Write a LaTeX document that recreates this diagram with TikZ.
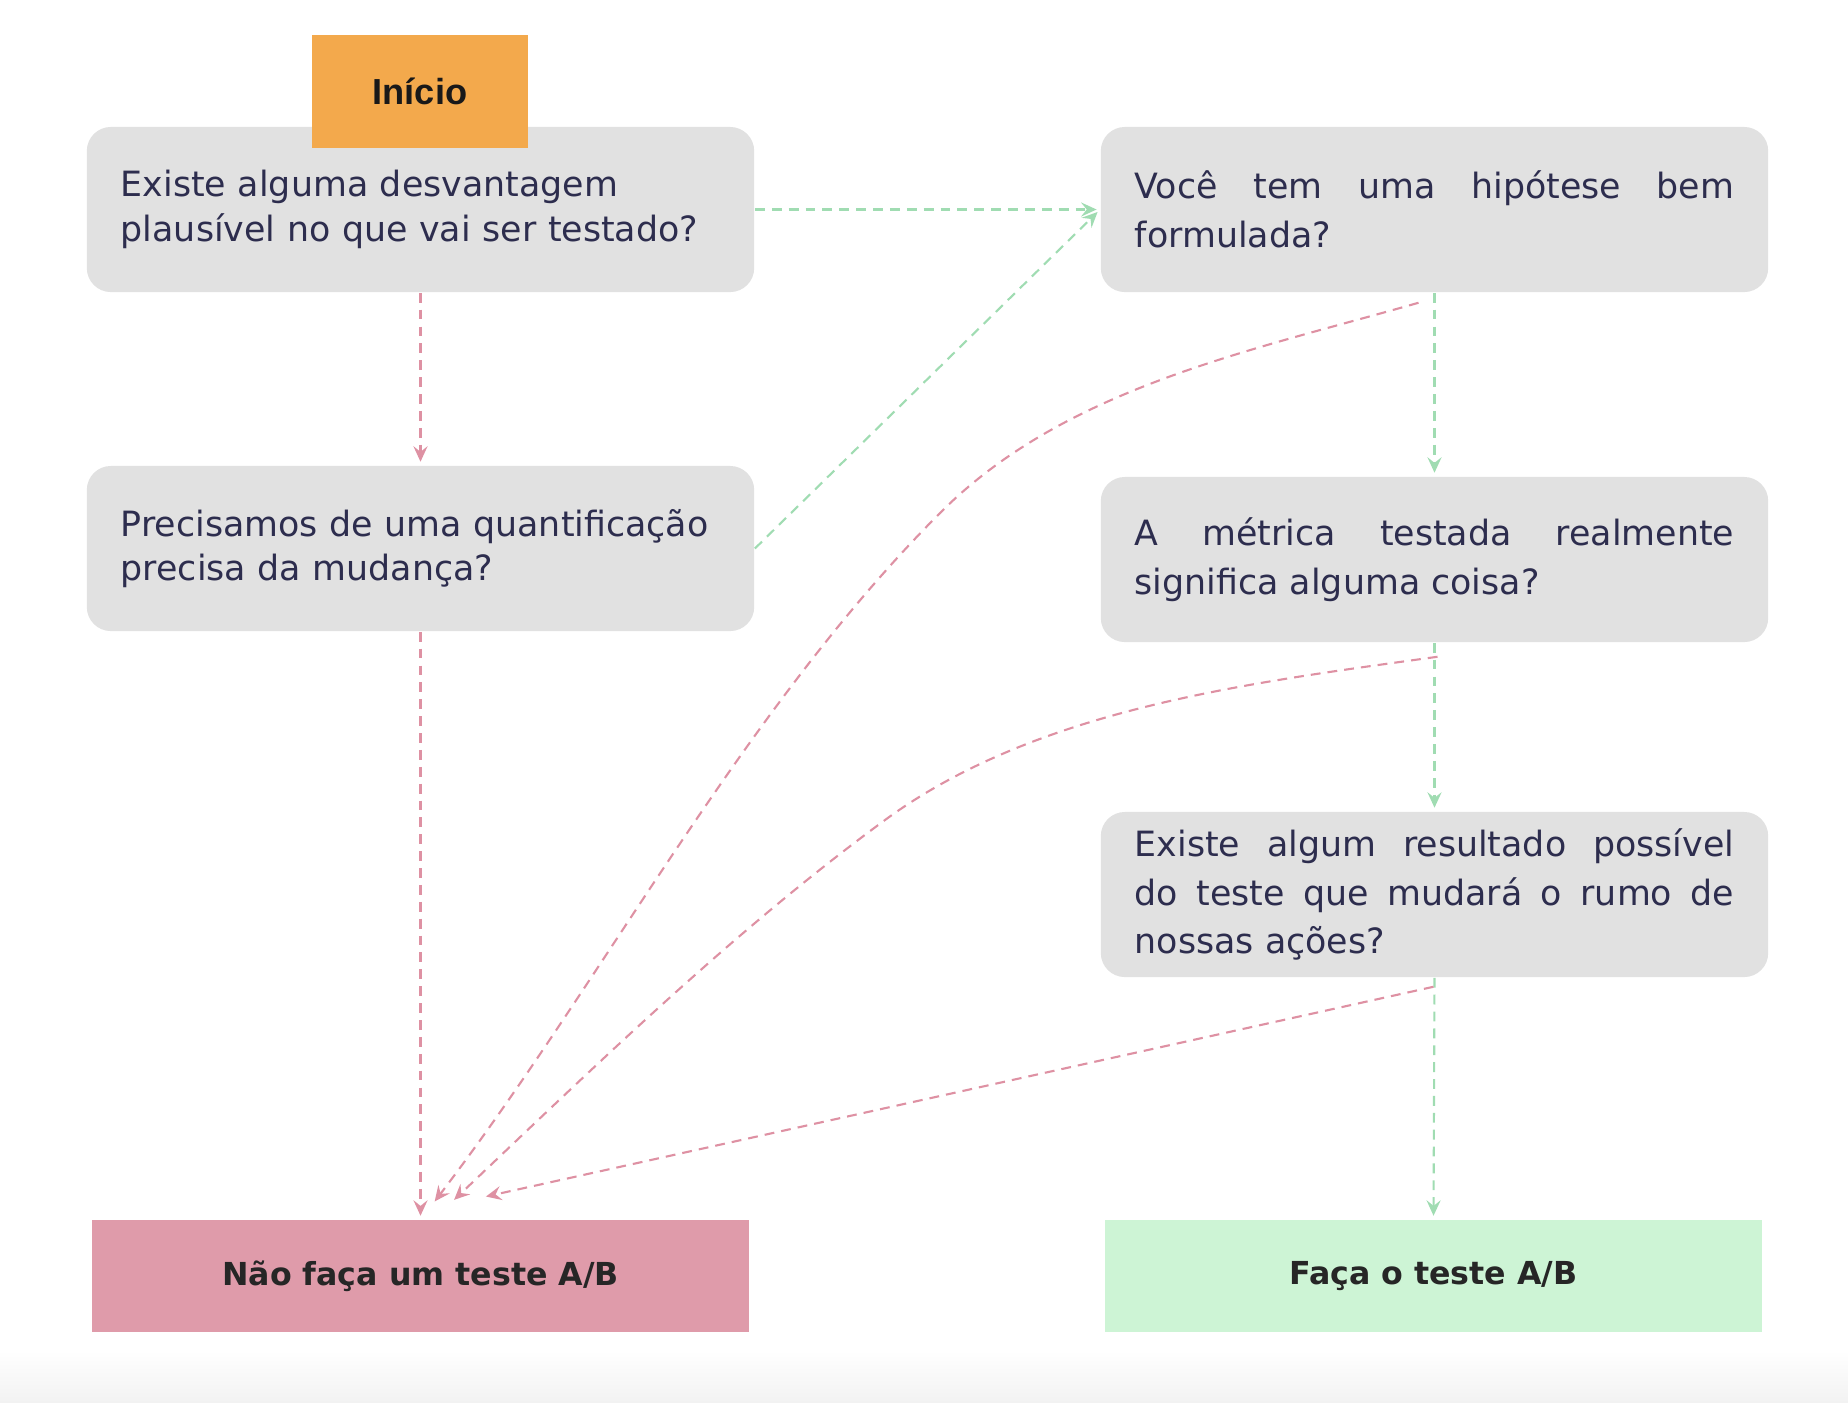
\documentclass[tikz,border=0pt]{standalone}
\usepackage{fontspec}
\setmainfont{DejaVu Sans}
\newfontfamily\startfont{Liberation Sans}
\usetikzlibrary{arrows.meta,calc}
\definecolor{boxgray}{RGB}{225,225,225}
\definecolor{startorange}{RGB}{243,169,76}
\definecolor{nofill}{RGB}{223,155,170}
\definecolor{yesfill}{RGB}{205,244,213}
\definecolor{redline}{RGB}{222,145,163}
\definecolor{greenline}{RGB}{160,220,178}
\definecolor{textnavy}{RGB}{45,45,78}

\begin{document}
\begin{tikzpicture}
    [x=0.01cm,y=-0.01cm,
    question/.style={fill=boxgray,rounded corners=0.24cm,minimum height=1.65cm,
        inner xsep=0.34cm,text width=5.99cm,text=textnavy},
    leftq/.style={question,align=left,font=\fontsize{9.9}{12.7}\selectfont},
    rightq/.style={question,align=justify,font=\fontsize{9.9}{13.9}\selectfont},
    answer/.style={minimum width=6.56cm,minimum height=1.12cm,inner sep=0pt,
        text=black!85,font=\bfseries\fontsize{9}{11}\selectfont},
    noarrow/.style={draw=redline,line width=0.6pt,dash pattern=on 2.8pt off 2pt,
        -{Stealth[length=4.4pt,width=4pt,inset=1.6pt]},shorten >=1pt},
    yesarrow/.style={noarrow,draw=greenline}]
    \useasboundingbox (0,0) rectangle (1848,1402);
    %background strip
    \shade[top color=white,bottom color=black!5] (0,1350) rectangle (1848,1402);
    %questions, left column
    \node[leftq] (plausible) at (420.5,209.5)
        {Existe alguma desvantagem\\plausível no que vai ser testado?};
    \node[leftq] (precise) at (420.5,548.5)
        {Precisamos de uma quantificação\\precisa da mudança?};
    %questions, right column
    \node[rightq] (hypothesis) at (1434.5,209.5)
        {Você tem uma hipótese bem\linebreak formulada?};
    \node[rightq] (metric) at (1434.5,559.5)
        {A métrica testada realmente\linebreak significa alguma coisa?};
    \node[rightq] (outcome) at (1434.5,894.5)
        {Existe algum resultado possível\linebreak do teste que mudará o rumo de\linebreak nossas ações?};
    %start
    \node[fill=startorange,minimum width=2.16cm,minimum height=1.13cm,inner sep=0pt,
        text=black!90,font=\startfont\bfseries\fontsize{10.3}{12}\selectfont]
        (start) at (420,91.5) {Início};
    %answers
    \node[answer,fill=nofill] (no) at (420.5,1276) {Não faça um teste A/B};
    \node[answer,fill=yesfill] (yes) at (1433.5,1276) {Faça o teste A/B};
    %yes arrows
    \draw[yesarrow] (plausible.east) -- (hypothesis.west);
    \draw[yesarrow] (precise.east) -- (hypothesis.west);
    \draw[yesarrow] (hypothesis.south) -- (metric.north);
    \draw[yesarrow] (metric.south) -- (outcome.north);
    \draw[yesarrow] (outcome.south) -- (yes.north);
    %no arrows
    \draw[noarrow] (plausible.south) -- (precise.north);
    \draw[noarrow] (precise.south) -- (no.north);
    \draw[noarrow] ($(hypothesis.south)+(-16,10)$)
        .. controls (1250,351) and (1065,388) .. (941,512)
        .. controls (743,710) and (605,978) .. ($(no.north)+(12,-15)$);
    \draw[noarrow] ($(metric.south)+(3,14)$)
        .. controls (1249,683) and (1038,708) .. (885,820)
        .. controls (732,932) and (590,1071) .. ($(no.north)+(31,-17)$);
    \draw[noarrow] ($(outcome.south)+(-1,9)$) -- ($(no.north)+(62,-22)$);
\end{tikzpicture}
\end{document}
